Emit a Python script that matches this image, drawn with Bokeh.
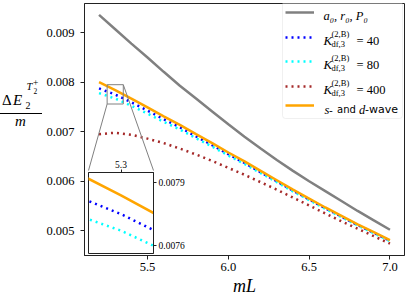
from bokeh.plotting import figure
from bokeh.models import (Range1d, FixedTicker, PrintfTickFormatter, Legend, LegendItem,
                          Label, BoxAnnotation, Div)
from bokeh.embed import file_html
from bokeh.resources import INLINE

# ---------------- data ----------------
mL = [5.2, 5.3, 5.4, 5.5, 5.6, 5.7, 5.8, 5.9, 6.0, 6.1,
      6.2, 6.3, 6.4, 6.5, 6.6, 6.7, 6.8, 6.9, 7.0]
dE_a0_r0_P0 = [0.00936, 0.00907, 0.00878, 0.00850, 0.00821, 0.00793, 0.00767, 0.00741, 0.00715, 0.00690,
               0.00666, 0.00643, 0.00621, 0.00600, 0.00580, 0.00560, 0.00540, 0.00521, 0.00502]
dE_K40 = [0.007875, 0.00775, 0.007595, 0.007425, 0.007252, 0.00709, 0.006905, 0.00673, 0.006545, 0.00637,
          0.006183, 0.005996, 0.00581, 0.005632, 0.005454, 0.005285, 0.005116, 0.004957, 0.004798]
dE_K80 = [0.00778, 0.00767, 0.007525, 0.007365, 0.0072, 0.007045, 0.006868, 0.0067, 0.00652, 0.006348,
          0.006165, 0.00598, 0.005795, 0.00562, 0.005443, 0.005275, 0.005107, 0.004949, 0.00479]
dE_K400 = [0.00695, 0.00698, 0.00694, 0.00686, 0.00677, 0.00666, 0.00654, 0.00641, 0.00627, 0.00613,
           0.00598, 0.00583, 0.00567, 0.00551, 0.00535, 0.00519, 0.00504, 0.00489, 0.00474]
dE_sd_wave = [0.00800, 0.00784, 0.00767, 0.00749, 0.00731, 0.00714, 0.00695, 0.00677, 0.00658, 0.00640,
              0.00621, 0.00602, 0.00583, 0.00565, 0.00547, 0.00530, 0.00513, 0.00497, 0.00481]

X_TICKS = [5.5, 6.0, 6.5, 7.0]
Y_TICKS = [0.005, 0.006, 0.007, 0.008, 0.009]
INSET_X = (5.25, 5.35)
INSET_Y = (0.00756, 0.00795)
INSET_X_TICKS = [5.3]
INSET_Y_TICKS = [0.0076, 0.0079]
K_VALUES = ["40", "80", "400"]

# ---------------- layout (page pixels; Bokeh's page template has no body margin) ----------------
FIG_W, FIG_H = 407, 298
FL, FR, FT, FB = 84, 404, 3, 258           # main frame
X_RANGE = (5.11, 7.09)
Y_RANGE = (0.0045, 0.00959)
IN_L, IN_R, IN_T, IN_B = 88, 153, 172, 253  # inset frame

SERIF = "Liberation Serif"
SANS = "DejaVu Sans"
FRAME_C = "#222222"

p = figure(width=FIG_W, height=FIG_H, output_backend="svg", toolbar_location=None,
           x_range=Range1d(*X_RANGE), y_range=Range1d(*Y_RANGE),
           min_border_left=FL, min_border_right=FIG_W - FR,
           min_border_top=FT, min_border_bottom=FIG_H - FB)
p.xgrid.visible = False
p.ygrid.visible = False
p.outline_line_color = FRAME_C
p.outline_line_width = 1
p.background_fill_color = "white"
p.border_fill_color = "white"

for ax in (p.xaxis[0], p.yaxis[0]):
    ax.axis_line_color = FRAME_C
    ax.major_tick_line_color = FRAME_C
    ax.major_tick_out = 4
    ax.major_tick_in = 0
    ax.minor_tick_out = 0
    ax.minor_tick_in = 0
    ax.major_label_text_font = SERIF
    ax.major_label_text_font_size = "12.5px"
    ax.major_label_text_color = "black"
p.xaxis.ticker = FixedTicker(ticks=X_TICKS)
p.xaxis.formatter = PrintfTickFormatter(format="%.1f")
p.yaxis.ticker = FixedTicker(ticks=Y_TICKS)
p.yaxis.formatter = PrintfTickFormatter(format="%.3f")
p.xaxis.major_label_standoff = 3
p.yaxis.major_label_standoff = 6
p.xaxis.axis_label = "mL"
p.xaxis.axis_label_text_font = SERIF
p.xaxis.axis_label_text_font_style = "italic"
p.xaxis.axis_label_text_font_size = "18px"
p.xaxis.axis_label_standoff = 2
p.xaxis.axis_label_text_color = "black"

styles = [
    (dE_a0_r0_P0, dict(line_color="gray", line_width=2.5)),
    (dE_K40, dict(line_color="blue", line_width=2.5, line_dash="2 4")),
    (dE_K80, dict(line_color="cyan", line_width=2.5, line_dash="2 4")),
    (dE_K400, dict(line_color="brown", line_width=2.5, line_dash="2 4")),
    (dE_sd_wave, dict(line_color="orange", line_width=2.5)),
]
renderers = [p.line(mL, ys, **kw) for ys, kw in styles]

# inset indicator and connectors
def px_x(X):
    return X_RANGE[0] + (X - FL) / (FR - FL) * (X_RANGE[1] - X_RANGE[0])

def px_y(Y):
    return Y_RANGE[0] + (FB - Y) / (FB - FT) * (Y_RANGE[1] - Y_RANGE[0])

p.quad(left=INSET_X[0], right=INSET_X[1], bottom=INSET_Y[0], top=INSET_Y[1],
       fill_alpha=0, line_color="gray", line_width=1)
p.segment(x0=[INSET_X[0], INSET_X[1]], y0=[INSET_Y[0], INSET_Y[1]],
          x1=[px_x(IN_L), px_x(IN_R)], y1=[px_y(IN_T), px_y(IN_T)],
          line_color="gray", line_width=1)


def text(t, X, Y, size, font=SERIF, style="normal", align="left"):
    p.add_layout(Label(x=X - FL, y=FB - Y, x_units="screen", y_units="screen", text=t,
                       text_font=font, text_font_size=f"{size}px", text_font_style=style,
                       text_align=align, text_baseline="alphabetic", text_color="black"))


# ---------------- legend ----------------
LEG_L, LEG_R, LEG_T, LEG_B = 282, 402, 4, 121
p.add_layout(BoxAnnotation(left=LEG_L - FL, right=LEG_R - FL, top=FB - LEG_T, bottom=FB - LEG_B,
                           left_units="screen", right_units="screen",
                           top_units="screen", bottom_units="screen",
                           fill_color="white", fill_alpha=0.8,
                           line_color="#cccccc", line_width=1, border_radius=3))
baselines = [18.3, 43, 67, 92, 112]
lines_y = [14.5, 40, 63.5, 88.5, 108.3]
for r, yc in zip(renderers, lines_y):
    p.add_layout(Legend(items=[LegendItem(label=" ", renderers=[r])],
                        location=(285 - FL, FB - yc - 5), glyph_width=29, glyph_height=10,
                        label_height=10, label_width=0, label_standoff=0, padding=0,
                        margin=0, spacing=0, border_line_alpha=0, background_fill_alpha=0,
                        label_text_font_size="1px"))

text("a\u2080, r\u2080, P\u2080", 323, baselines[0], 12.5, style="italic")
for k, b in zip(K_VALUES, baselines[1:4]):
    text("K", 323, b, 13, style="italic")
    text("(2,B)", 331, b - 6.5, 8.5)
    text("df,3", 331, b + 3, 8.5)
    text("= " + k, 356, b, 12.5)
b = baselines[4]
text("s", 324, b, 12.5, style="italic")
text("-", 328.5, b, 10.5, font=SANS)
text("and", 336.5, b, 10, font=SANS)
text("d", 358.5, b, 12.5, style="italic")
text("-wave", 364.5, b, 11, font=SANS)

# ---------------- y-axis label (fraction) as positioned HTML text ----------------
YL_L, YL_T, YL_W, YL_H = 0, 72, 46, 60


def piece(t, X, base, size, italic=False):
    top = base - 0.837 * size - YL_T
    st = "font-style:italic;" if italic else ""
    return (f'<span style="position:absolute;left:{X - YL_L}px;top:{top:.1f}px;'
            f'font-size:{size}px;line-height:1;white-space:nowrap;{st}">{t}</span>')


html = (f'<div style="position:relative;width:{YL_W}px;height:{YL_H}px;'
        f'font-family:\'{SERIF}\';color:black;">'
        + piece("\u0394", 2, 105.5, 15)
        + piece("E", 13, 105.5, 15, True)
        + piece("2", 25.5, 109, 10)
        + piece("T", 26.5, 90.5, 10.5, True)
        + piece("2", 33.5, 94.5, 7.5)
        + piece("+", 33, 87, 9.5)
        + f'<div style="position:absolute;left:0px;top:{113 - YL_T}px;width:42px;'
          f'height:0px;border-top:1px solid black;"></div>'
        + f'<div style="position:absolute;left:0px;width:41px;text-align:center;'
          f'top:{127 - 0.837 * 15 - YL_T:.1f}px;font-size:15px;line-height:1;'
          f'font-style:italic;">m</div>'
        + '</div>')
ylab = Div(text=html, width=YL_W, height=YL_H, margin=0,
           styles={"position": "absolute", "left": f"{YL_L}px", "top": f"{YL_T}px"})

# ---------------- inset ----------------
BT, BR, BL, BB = 18, 40, 2, 2
inset = figure(width=(IN_R - IN_L) + BL + BR, height=(IN_B - IN_T) + BT + BB,
               output_backend="svg", toolbar_location=None,
               x_range=Range1d(*INSET_X), y_range=Range1d(*INSET_Y),
               x_axis_location="above", y_axis_location="right",
               min_border_left=BL, min_border_right=BR, min_border_top=BT, min_border_bottom=BB)
inset.border_fill_alpha = 0
inset.background_fill_color = "white"
inset.outline_line_color = FRAME_C
inset.outline_line_width = 1
inset.xgrid.visible = False
inset.ygrid.visible = False
for ax in (inset.xaxis[0], inset.yaxis[0]):
    ax.axis_line_color = FRAME_C
    ax.major_tick_line_color = FRAME_C
    ax.major_tick_out = 3
    ax.major_tick_in = 0
    ax.minor_tick_out = 0
    ax.minor_tick_in = 0
    ax.major_label_text_font = SERIF
    ax.major_label_text_font_size = "9.5px"
    ax.major_label_text_color = "black"
    ax.major_label_standoff = 2
inset.xaxis.ticker = FixedTicker(ticks=INSET_X_TICKS)
inset.xaxis.formatter = PrintfTickFormatter(format="%.1f")
inset.yaxis.ticker = FixedTicker(ticks=INSET_Y_TICKS)
inset.yaxis.formatter = PrintfTickFormatter(format="%.4f")
for ys, kw in styles[1:]:
    inset.line(mL, ys, **kw)
inset.styles = {"position": "absolute", "left": f"{IN_L - BL}px", "top": f"{IN_T - BT}px"}

open("out.html", "w").write(file_html([p, inset, ylab], INLINE))
